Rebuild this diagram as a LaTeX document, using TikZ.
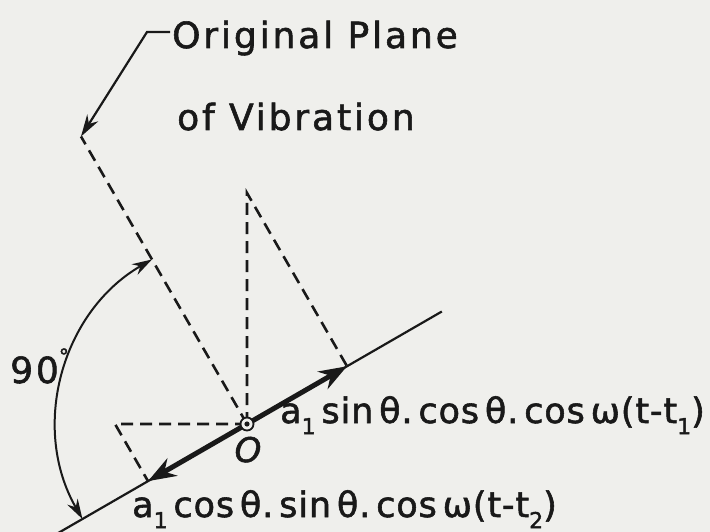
\documentclass[tikz,border=0pt]{standalone}
\usepackage{fontspec}
\setmainfont{DejaVu Sans}[LetterSpace=8,FakeBold=1.6]
\newfontfamily\eqfont{DejaVu Sans}[LetterSpace=2.5,FakeBold=1.6]
\usetikzlibrary{arrows.meta,calc}
\definecolor{paper}{RGB}{239,239,236}
\definecolor{ink}{RGB}{25,25,25}
\newcommand{\lowsub}[1]{\raisebox{-0.32em}{\fontsize{22}{22}\selectfont #1}}
\tikzset{
  lbl/.style={inner sep=0pt, text=ink, font=\fontsize{36}{40}\selectfont},
  eq/.style={inner sep=0pt, text=ink, font=\fontsize{35}{40}\eqfont},
  dsh/.style={draw=ink, line width=2.6pt, dash pattern=on 12pt off 7pt},
  thin/.style={draw=ink, line width=2.2pt},
  thick arrow/.style={draw=ink, line width=5pt, -{Stealth[length=28pt,width=20pt]}},
  arc arrow/.style={draw=ink, line width=2pt, {Stealth[length=20pt,width=12pt]}-{Stealth[length=20pt,width=12pt]}},
}
\begin{document}
\begin{tikzpicture}[x=1pt,y=1pt]
\fill[paper] (0,0) rectangle (710,-532);
\useasboundingbox (0,0) rectangle (710,-532);
\coordinate (O) at (247,-424);
\coordinate (L) at ($(O)+(210:218)$);
\coordinate (R) at ($(O)+(30:225)$);
\coordinate (P) at ($(O)+(120:332)$);
\coordinate (V) at ($(O)+(90:231)$);
\coordinate (F1) at ($(O)+(30:115.5)$);
\coordinate (H) at ($(O)+(180:132)$);
\coordinate (F2) at ($(O)+(210:114.3)$);
\coordinate (A1) at ($(O)+(120:190)$);
\coordinate (T0) at (170,-32);
\coordinate (T1) at (147,-32);
% main line
\draw[thin] (L) -- (R);
% dashed constructions
\draw[dsh] (O) -- (P);
\draw[dsh] (O) -- (V) -- (F1);
\draw[dsh] (O) -- (H) -- (F2);
% thick components
\draw[thick arrow] (O) -- (F1);
\draw[thick arrow] (O) -- (F2);
% origin marker
\draw[ink, line width=1.8pt, fill=paper] (O) circle (6.5pt);
\fill[ink] (O) circle (2.6pt);
% 90 degree arc
\draw[arc arrow] (A1) arc[start angle=120, end angle=210, radius=190];
% leader
\draw[thin, -{Stealth[length=22pt,width=13pt]}] (T0) -- (T1) -- (P);
% texts
\node[lbl, anchor=base west] (t1) at (172,-48) {Original Plane};
\node[lbl, anchor=base west] (t2) at (177,-130) {of Vibration};
\node[lbl, anchor=base west] (deg) at (10,-383) {90\raisebox{0.55em}{\fontsize{20}{20}\selectfont °}};
\node[lbl, anchor=base, font=\fontsize{34}{40}\selectfont\itshape] (o) at (248,-462) {O};
\node[eq, anchor=base west] (e1) at (280,-423) {a\lowsub{1}\,sin\,θ.\,cos\,θ.\,cos\,ω(t-t\lowsub{1})};
\node[eq, anchor=base west] (e2) at (132,-517) {a\lowsub{1}\,cos\,θ.\,sin\,θ.\,cos\,ω(t-t\lowsub{2})};
\end{tikzpicture}
\end{document}
